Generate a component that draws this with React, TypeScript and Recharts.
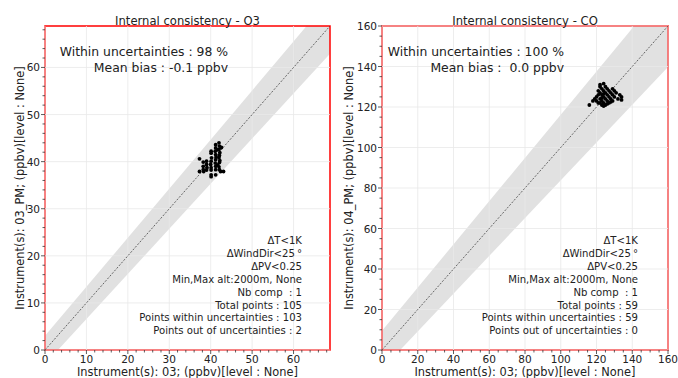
import React from 'react'
import {
  ComposedChart,
  XAxis,
  YAxis,
  Area,
  Line,
  Scatter,
  ReferenceLine,
  ReferenceArea,
  Label,
} from 'recharts'

const FONT = '"DejaVu Sans", "Liberation Sans", sans-serif'

// O3 panel
const o3Max = 68.8
const o3Major = [0, 10, 20, 30, 40, 50, 60]
const o3Minor = [0, 2, 4, 6, 8, 10, 12, 14, 16, 18, 20, 22, 24, 26, 28, 30, 32, 34, 36, 38, 40, 42, 44, 46, 48, 50, 52, 54, 56, 58, 60, 62, 64, 66, 68]
const o3BandX = [0, 68.8]
const o3BandLow = [-3.0, 62.9]
const o3BandHigh = [3.0, 74.7]
const o3Diag = [0, 68.8]
const o3Inst = [
  42.0, 42.1, 42.0, 42.2, 42.1, 42.0, 42.2, 42.1, 42.0, 42.1,
  41.2, 41.2, 41.1, 41.2, 41.3, 41.2, 41.1, 41.2, 41.2, 41.2,
  40.1, 40.1, 40.2, 40.1, 40.0, 40.1, 40.1, 40.1, 40.1,
  39.0, 39.0, 39.1, 39.0,
  38.2, 38.2, 38.2, 38.3,
  37.3, 37.3,
  42.4, 43.1, 42.6, 41.6, 41.7,
]
const o3Pm = [
  44.0, 43.3, 42.6, 41.9, 41.3, 40.8, 40.2, 39.8, 38.9, 38.3,
  43.6, 42.9, 42.2, 41.5, 41.0, 40.4, 39.7, 39.0, 38.3, 37.2,
  42.2, 41.8, 40.8, 40.1, 39.4, 38.7, 38.2, 37.2, 36.8,
  40.1, 39.4, 38.7, 38.2,
  39.9, 39.0, 38.3, 37.9,
  40.6, 37.9,
  37.9, 37.9, 43.0, 42.5, 39.3,
]
const o3Stats = [
  'ΔT<1K',
  'ΔWindDir<25\u2009°',
  'ΔPV<0.25',
  'Min,Max alt:2000m, None',
  'Nb comp  : 1',
  'Total points : 105',
  'Points within uncertainties : 103',
  'Points out of uncertainties : 2',
]

// CO panel
const coMax = 160
const coMajor = [0, 20, 40, 60, 80, 100, 120, 140, 160]
const coMinor = [0, 5, 10, 15, 20, 25, 30, 35, 40, 45, 50, 55, 60, 65, 70, 75, 80, 85, 90, 95, 100, 105, 110, 115, 120, 125, 130, 135, 140, 145, 150, 155, 160]
const coBandX = [0, 160]
const coBandLow = [-9.5, 139.8]
const coBandHigh = [9.5, 180.2]
const coDiag = [0, 160]
const coInst = [
  116, 118, 119, 120, 121, 121, 122, 122, 122, 122,
  122, 123, 123, 123, 123, 124, 124, 124, 124, 125,
  125, 125, 126, 126, 126, 127, 127, 127, 128, 128,
  129, 129, 129, 130, 130, 131, 132, 133, 134, 134,
  125, 124, 121, 120, 123, 126, 124, 128,
]
const coPm = [
  121, 123, 124, 125, 126, 128, 130, 131, 127, 124,
  122, 129, 126, 123, 121, 128, 125, 122, 120.5, 127,
  124, 121, 129, 126, 123, 128, 125, 122, 127, 124,
  129, 126, 123, 128, 125, 127, 124, 126, 125, 123.5,
  130, 131.5, 122, 123, 124.5, 121.5, 126.5, 122.5,
]
const coStats = [
  'ΔT<1K',
  'ΔWindDir<25\u2009°',
  'ΔPV<0.25',
  'Min,Max alt:2000m, None',
  'Nb comp  : 1',
  'Total points : 59',
  'Points within uncertainties : 59',
  'Points out of uncertainties : 0',
]

const xLabel = 'Instrument(s): 03; (ppbv)[level : None]'

function makeXTick(major: number[]) {
  return (props: any) => {
    const { x, y, payload } = props
    const isMajor = major.includes(payload.value)
    return (
      <g>
        <line x1={x} x2={x} y1={y} y2={y + (isMajor ? 4 : 2.5)} stroke="#333" strokeWidth={0.8} />
        {isMajor && (
          <text x={x} y={y + 9} textAnchor="middle" dominantBaseline="central" fontSize={10.5} fill="#222" fontFamily={FONT}>
            {payload.value}
          </text>
        )}
      </g>
    )
  }
}

function makeYTick(major: number[]) {
  return (props: any) => {
    const { x, y, payload } = props
    const isMajor = major.includes(payload.value)
    return (
      <g>
        <line x1={x} x2={x - (isMajor ? 4 : 2.5)} y1={y} y2={y} stroke="#333" strokeWidth={0.8} />
        {isMajor && (
          <text x={x - 5} y={y} textAnchor="end" dominantBaseline="central" fontSize={10.5} fill="#222" fontFamily={FONT}>
            {payload.value}
          </text>
        )}
      </g>
    )
  }
}

const dot = (p: any) => <circle cx={p.cx} cy={p.cy} r={1.9} fill="#000" />

interface PanelProps {
  left: number
  width: number
  yAxisWidth: number
  max: number
  major: number[]
  minor: number[]
  bandX: number[]
  bandLow: number[]
  bandHigh: number[]
  diag: number[]
  inst: number[]
  pm: number[]
  yLabel: string
  yLabelX: number
}

function Panel(p: PanelProps) {
  const lineData = p.bandX.map((x, i) => ({
    x,
    band: [p.bandLow[i], p.bandHigh[i]],
    diag: p.diag[i],
  }))
  const points = p.inst.map((x, i) => ({ x, y: p.pm[i] }))

  return (
    <div style={{ position: 'absolute', left: p.left, top: 0 }}>
      <ComposedChart
        width={p.width}
        height={378}
        data={lineData}
        margin={{ top: 26, right: 10, bottom: 0, left: 0 }}
      >
        <XAxis
          dataKey="x"
          type="number"
          domain={[0, p.max]}
          allowDataOverflow
          ticks={p.minor}
          interval={0}
          tickSize={0}
          tickMargin={0}
          tickLine={false}
          axisLine={false}
          height={28}
          tick={makeXTick(p.major)}
        >
          <Label
            content={(lp: any) => {
              const vb = lp.viewBox
              return (
                <text x={vb.x + vb.width / 2} y={vb.y + 21.5} textAnchor="middle" dominantBaseline="central" fontSize={11.4} fill="#222" fontFamily={FONT}>
                  {xLabel}
                </text>
              )
            }}
          />
        </XAxis>
        <YAxis
          type="number"
          domain={[0, p.max]}
          allowDataOverflow
          ticks={p.minor}
          interval={0}
          tickSize={0}
          tickMargin={0}
          tickLine={false}
          axisLine={false}
          width={p.yAxisWidth}
          tick={makeYTick(p.major)}
        >
          <Label
            content={(lp: any) => {
              const vb = lp.viewBox
              const cx = vb.x + p.yLabelX
              const cy = vb.y + vb.height / 2
              return (
                <text x={cx} y={cy} transform={`rotate(-90, ${cx}, ${cy})`} textAnchor="middle" dominantBaseline="central" fontSize={11.4} fill="#222" fontFamily={FONT}>
                  {p.yLabel}
                </text>
              )
            }}
          />
        </YAxis>
        <Area
          dataKey="band"
          fill="#e1e1e1"
          fillOpacity={1}
          stroke="none"
          isAnimationActive={false}
        />
        {p.major.map(v => (
          <ReferenceLine key={'gx' + v} x={v} stroke="#e9e9e9" strokeWidth={0.8} />
        ))}
        {p.major.map(v => (
          <ReferenceLine key={'gy' + v} y={v} stroke="#e9e9e9" strokeWidth={0.8} />
        ))}
        <Line
          dataKey="diag"
          dot={false}
          activeDot={false}
          stroke="#444"
          strokeWidth={0.8}
          strokeDasharray="2 1.5"
          isAnimationActive={false}
        />
        <Scatter data={points} dataKey="y" shape={dot} isAnimationActive={false} />
        <ReferenceArea
          x1={0}
          x2={p.max}
          y1={0}
          y2={p.max}
          fill="none"
          fillOpacity={0}
          stroke="#ff0000"
          strokeWidth={1.5}
          ifOverflow="visible"
        />
      </ComposedChart>
    </div>
  )
}

const textStyle: React.CSSProperties = {
  position: 'absolute',
  fontFamily: FONT,
  color: '#222',
  textAlign: 'right',
  whiteSpace: 'pre',
}

export default function App() {
  return (
    <div style={{ position: 'absolute', left: 0, top: 0, width: 678, height: 378, background: '#fff' }}>
      <Panel
        left={0}
        width={340}
        yAxisWidth={45}
        max={o3Max}
        major={o3Major}
        minor={o3Minor}
        bandX={o3BandX}
        bandLow={o3BandLow}
        bandHigh={o3BandHigh}
        diag={o3Diag}
        inst={o3Inst}
        pm={o3Pm}
        yLabel="Instrument(s): 03_PM; (ppbv)[level : None]"
        yLabelX={20}
      />
      <Panel
        left={340}
        width={338}
        yAxisWidth={42}
        max={coMax}
        major={coMajor}
        minor={coMinor}
        bandX={coBandX}
        bandLow={coBandLow}
        bandHigh={coBandHigh}
        diag={coDiag}
        inst={coInst}
        pm={coPm}
        yLabel="Instrument(s): 04_PM; (ppbv)[level : None]"
        yLabelX={9}
      />

      <div style={{ ...textStyle, left: 45, width: 285, top: 14, lineHeight: '14px', fontSize: 11.6, textAlign: 'center' }}>
        Internal consistency - O3
      </div>
      <div style={{ ...textStyle, left: 382, width: 286, top: 14, lineHeight: '14px', fontSize: 11.6, textAlign: 'center' }}>
        Internal consistency - CO
      </div>

      <div style={{ ...textStyle, right: 678 - 228, top: 44, lineHeight: '16px', fontSize: 12.4 }}>
        {'Within uncertainties : 98 %\nMean bias : -0.1 ppbv'}
      </div>
      <div style={{ ...textStyle, right: 678 - 564, top: 44, lineHeight: '16px', fontSize: 12.4 }}>
        {'Within uncertainties : 100 %\nMean bias :  0.0 ppbv'}
      </div>

      <div style={{ ...textStyle, right: 678 - 302, top: 235, lineHeight: '12.9px', fontSize: 10.1 }}>
        {o3Stats.join('\n')}
      </div>
      <div style={{ ...textStyle, right: 678 - 638, top: 235, lineHeight: '12.9px', fontSize: 10.1 }}>
        {coStats.join('\n')}
      </div>
    </div>
  )
}
